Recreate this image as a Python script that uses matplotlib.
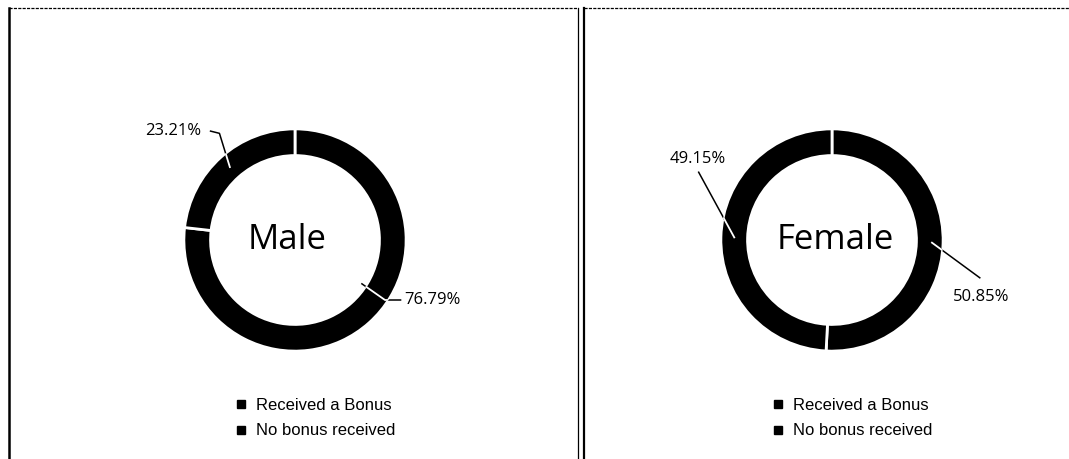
import numpy as np
import matplotlib
matplotlib.use('Agg')
import matplotlib.pyplot as plt
from matplotlib.lines import Line2D

# data
groups = ['Male', 'Female']
categories = ['Received a Bonus', 'No bonus received']
male_pct = [76.79, 23.21]
female_pct = [50.85, 49.15]

W, H = 1069, 459
fig = plt.figure(figsize=(W / 100, H / 100), dpi=100)

def px(x, y):
    # pixel (from top-left) -> figure fraction
    return x / W, 1 - y / H

# panel borders
for x0, x1 in [(9, 578), (584, 1069)]:
    fig.add_artist(Line2D([x0 / W, x1 / W], [1 - 8 / H] * 2, color='black', lw=0.9,
                          ls=(0, (2.5, 1)), transform=fig.transFigure))
for x, lw in [(9, 1.8), (578, 0.9), (584, 1.6)]:
    fig.add_artist(Line2D([x / W] * 2, [0, 1 - 8 / H], color='black', lw=lw,
                          transform=fig.transFigure))

def donut(cx, cy, vals, title, title_dx, labels):
    size = 300
    ax = fig.add_axes([(cx - size / 2) / W, (H - cy - size / 2) / H, size / W, size / H])
    wedges, _ = ax.pie(vals, startangle=90, counterclock=False, colors=['black', 'black'],
                       radius=1.0, wedgeprops=dict(width=0.24, edgecolor='white', linewidth=2))
    ax.set_xlim(-1.35, 1.35)
    ax.set_ylim(-1.35, 1.35)
    ax.set_aspect('equal')
    ax.axis('off')
    ax.text(title_dx, 0, title, ha='center', va='center', fontsize=25, family='Open Sans')
    for w, v, (tx, ty, ha, r, dang, path) in zip(wedges, vals, labels):
        ang = np.deg2rad((w.theta1 + w.theta2) / 2 + dang)
        anchor = (r * np.cos(ang), r * np.sin(ang))
        pts = [anchor] + path
        xs = [p[0] for p in pts]
        ys = [p[1] for p in pts]
        ax.plot(xs, ys, color='black', lw=1.1, clip_on=False, zorder=3)
        # white part where the leader crosses the ring
        wl, = ax.plot(xs, ys, color='white', lw=1.3, zorder=4)
        wl.set_clip_path(w)
        ax.text(tx, ty, f'{v:.2f}%', ha=ha, va='center', fontsize=12, family='Open Sans')
    return ax, wedges

ax_m, w_m = donut(295, 240, male_pct, 'Male', -0.07, [
    (0.98, -0.54, 'left', 0.72, 15, [(0.81, -0.54), (0.95, -0.54)]),
    (-0.84, 0.98, 'right', 0.88, 0, [(-0.68, 0.96), (-0.76, 0.98)]),
])
ax_f, w_f = donut(832, 240, female_pct, 'Female', 0.03, [
    (1.34, -0.51, 'center', 0.9, 0, [(1.33, -0.34)]),
    (-1.21, 0.73, 'center', 0.88, 0, [(-1.20, 0.61)]),
])

for x in [234, 771]:
    handles = [Line2D([], [], marker='s', color='black', ls='none', markersize=6)
               for _ in categories]
    fig.legend(handles, categories, loc='upper left', bbox_to_anchor=px(x, 398),
               frameon=False, handlelength=0.8, handletextpad=0.5,
               labelspacing=0.62, borderpad=0, borderaxespad=0,
               prop=dict(family='Liberation Sans', size=12))

fig.savefig('out.png', dpi=100)
